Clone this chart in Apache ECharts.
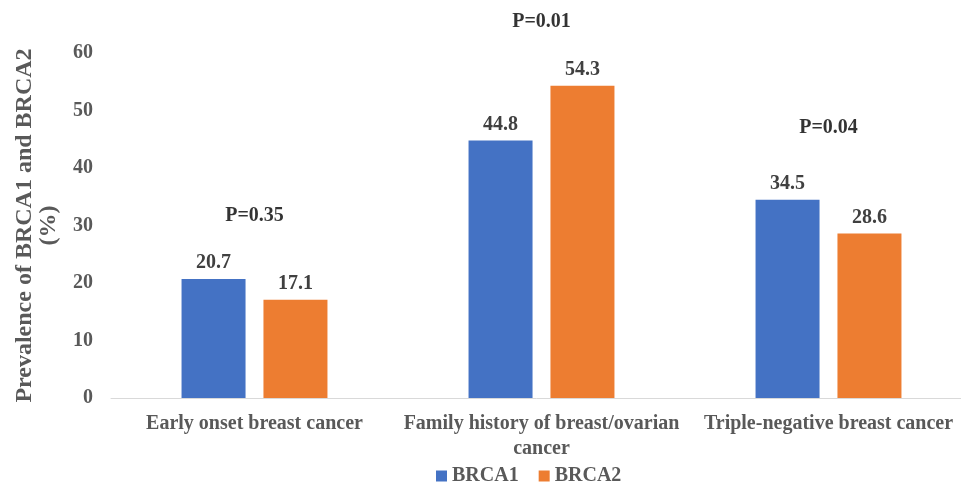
<!DOCTYPE html>
<html>
<head>
<meta charset="utf-8">
<script src="https://cdn.jsdelivr.net/npm/echarts@6/dist/echarts.min.js"></script>
<style>
html,body{margin:0;padding:0;background:#fff;}
#chart{width:961px;height:489px;}
</style>
</head>
<body>
<div id="chart"></div>
<script>
var categories = ['Early onset breast cancer', 'Family history of breast/ovarian\ncancer', 'Triple-negative breast cancer'];
var brca1 = [20.7, 44.8, 34.5];
var brca2 = [17.1, 54.3, 28.6];
var pLabels = ['P=0.35', 'P=0.01', 'P=0.04'];
var pHeights = [31.6, 65.4, 47.0];
var yTicks = [0, 10, 20, 30, 40, 50, 60];

var FONT = '"Liberation Serif", "Times New Roman", serif';
var chart = echarts.init(document.getElementById('chart'));
chart.setOption({
  animation: false,
  textStyle: { fontFamily: FONT },
  grid: { left: 111, right: -11, top: 53, bottom: 91, containLabel: false, outerBoundsMode: 'none' },
  legend: {
    data: ['BRCA1', 'BRCA2'],
    top: 466,
    left: 436,
    padding: 0,
    icon: 'rect',
    itemWidth: 11,
    itemHeight: 11,
    itemGap: 20,
    textStyle: { fontFamily: FONT, fontSize: 20, fontWeight: 'bold', color: '#595959' }
  },
  xAxis: {
    type: 'category',
    data: categories,
    axisLine: { lineStyle: { color: '#d9d9d9', width: 1 } },
    axisTick: { show: false },
    axisLabel: { fontFamily: FONT, fontSize: 20, fontWeight: 'bold', color: '#595959', margin: 13, lineHeight: 25, interval: 0 }
  },
  yAxis: {
    type: 'value',
    min: yTicks[0],
    max: yTicks[yTicks.length - 1],
    interval: 10,
    splitLine: { show: false },
    axisLine: { show: false },
    axisTick: { show: false },
    axisLabel: { fontFamily: FONT, fontSize: 20, fontWeight: 'bold', color: '#595959', margin: 18 },
    name: 'Prevalence of BRCA1 and BRCA2\n(%)',
    nameLocation: 'middle',
    nameGap: 50,
    nameTextStyle: { fontFamily: FONT, fontSize: 24, fontWeight: 'bold', color: '#595959', lineHeight: 24, align: 'center' }
  },
  series: [
    {
      name: 'BRCA1', type: 'bar', data: brca1, barWidth: 64, barGap: '28%',
      itemStyle: { color: '#4472C4' },
      label: { show: true, position: 'top', distance: 6, fontFamily: FONT, fontSize: 20, fontWeight: 'bold', color: '#404040' }
    },
    {
      name: 'BRCA2', type: 'bar', data: brca2, barWidth: 64,
      itemStyle: { color: '#ED7D31' },
      label: { show: true, position: 'top', distance: 6, fontFamily: FONT, fontSize: 20, fontWeight: 'bold', color: '#404040' }
    },
    {
      name: 'P', type: 'scatter', symbolSize: 0, clip: false, silent: true,
      data: pHeights.map(function (v, i) { return [i, v, pLabels[i]]; }),
      label: {
        show: true, position: 'inside',
        formatter: function (p) { return p.data[2]; },
        fontFamily: FONT, fontSize: 20, fontWeight: 'bold', color: '#000'
      }
    }
  ]
});
</script>
</body>
</html>
